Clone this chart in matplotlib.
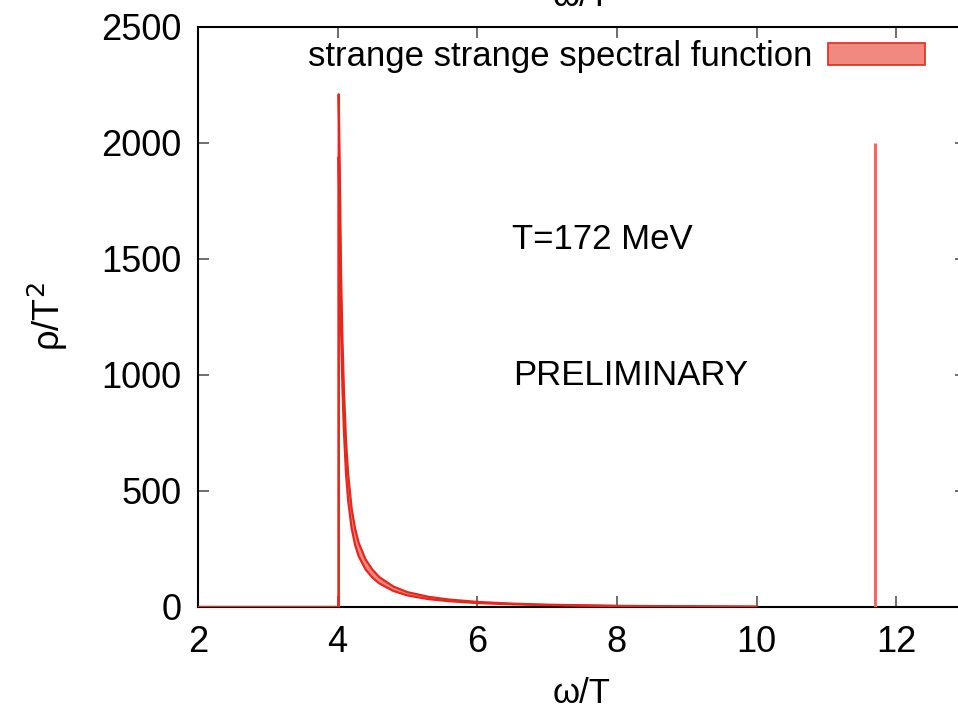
import matplotlib
matplotlib.use("Agg")
import matplotlib.pyplot as plt
from matplotlib.patches import Patch

plt.rcParams['font.family'] = ['Liberation Sans', 'DejaVu Sans']

# data
omega = [2.0, 4.0, 4.015, 4.015, 4.03, 4.05, 4.07, 4.09, 4.12, 4.15, 4.2, 4.25, 4.3,
         4.4, 4.5, 4.6, 4.8, 5.0, 5.3, 5.6, 6.0, 6.5, 7.0, 8.0, 9.0, 10.0]
rho_upper = [0, 0, 0, 2210, 1900, 1420, 1140, 935, 715, 575, 425, 338, 278,
             205, 160, 128, 88, 64, 44, 32, 22, 14.5, 10, 5, 3, 1.5]
rho_lower = [0, 0, 0, 1940, 1600, 1180, 930, 755, 575, 460, 340, 268, 220,
             162, 126, 101, 69, 50, 34, 25, 17, 11.5, 8, 4, 2.4, 1.2]
delta_omega = 11.7
delta_height = 2000
legend_label = "strange strange spectral function"
temp_label = "T=172 MeV"
prelim_label = "PRELIMINARY"
xticks = [2, 4, 6, 8, 10, 12]
yticks = [0, 500, 1000, 1500, 2000, 2500]

W, H = 958, 714
fig = plt.figure(figsize=(W / 100, H / 100), dpi=100)
ax_left, ax_right, ax_top, ax_bot = 198, 966, 27, 607
ax = fig.add_axes([ax_left / W, 1 - ax_bot / H, (ax_right - ax_left) / W, (ax_bot - ax_top) / H])

red = '#e8261c'
fillc = '#f08a80'

ax.fill_between(omega, rho_lower, rho_upper, color=fillc, lw=0, zorder=2)
ax.plot(omega, rho_upper, color=red, lw=1.6, zorder=3)
ax.plot(omega, rho_lower, color=red, lw=1.6, zorder=3)
ax.vlines([delta_omega], 0, delta_height, color='#f0685e', lw=2.2, zorder=3)

ax.set_xlim(2, 13)
ax.set_ylim(0, 2500)
ax.set_xticks(xticks)
ax.set_yticks(yticks)
ax.tick_params(direction='in', length=8, width=1.2, color='#555555', labelsize=26,
               top=True, right=True)
ax.tick_params(axis='x', pad=13)
ax.tick_params(axis='y', pad=12)
for s in ax.spines.values():
    s.set_linewidth(1.5)
    s.set_color('black')

ax.set_xlabel('ω/T', fontsize=25, labelpad=12)
ax.set_ylabel('ρ/T$^2$', fontsize=26, labelpad=22)
fig.text((ax_left + ax_right) / 2 / W, 1 + 4 / H, 'ω/T', fontsize=25, ha='center', va='center')

ax.text(6.5, 1585, temp_label, fontsize=25, ha='left', va='center')
ax.text(6.52, 998, prelim_label, fontsize=25, ha='left', va='center')

handle = Patch(facecolor=fillc, edgecolor=red, linewidth=1.2)
ax.legend([handle], [legend_label], loc='upper right', frameon=False, fontsize=25,
          markerfirst=False, handlelength=2.8, handleheight=0.6, handletextpad=0.45,
          borderpad=0, borderaxespad=0,
          bbox_to_anchor=(925 / W, 1 - 40 / H), bbox_transform=fig.transFigure)

fig.savefig('out.png', dpi=100)
